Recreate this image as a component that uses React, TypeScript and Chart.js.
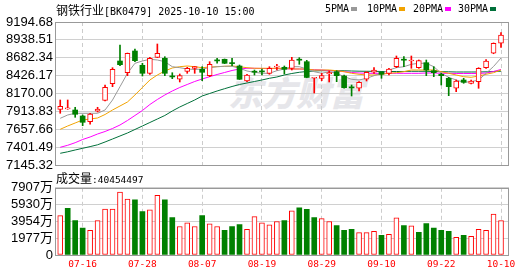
import React, { useEffect, useRef } from 'react';
import { Chart, registerables } from 'chart.js';
Chart.register(...registerables);

const openP = [7943.6, 7950.8, 7933.6, 7847.6, 7765.9, 7915.0, 8072.6, 8310.5, 8635.8, 8468.1,
  8779.1, 8574.2, 8459.5, 8688.8, 8674.5, 8413.7, 8373.6, 8485.3, 8531.2, 8516.9,
  8425.1, 8643.0, 8660.2, 8601.0, 8564.2, 8349.2, 8481.0, 8485.3, 8459.5, 8547.0,
  8545.5, 8531.2, 8653.0, 8625.8, 8388.0, 8387.9, 8449.5, 8482.5, 8420.8, 8256.0,
  8244.6, 8373.6, 8473.9, 8473.9, 8459.5, 8554.1, 8653.0, 8635.8, 8539.8, 8611.4,
  8496.8, 8445.2, 8387.9, 8244.6, 8363.5, 8316.2, 8339.2, 8539.8, 8746.2, 8889.5];
const closeP = [7986.6, 7958.0, 7872.0, 7757.3, 7876.3, 7947.9, 8258.9, 8516.9, 8582.8, 8746.2,
  8640.1, 8459.5, 8674.5, 8746.2, 8459.5, 8407.9, 8425.1, 8531.2, 8554.1, 8473.9,
  8588.5, 8637.2, 8602.9, 8598.0, 8373.6, 8435.2, 8475.3, 8479.6, 8531.2, 8552.7,
  8516.9, 8650.1, 8647.3, 8400.0, 8396.0, 8425.1, 8471.0, 8425.1, 8253.2, 8250.3,
  8330.6, 8473.9, 8506.8, 8445.2, 8521.2, 8674.5, 8647.3, 8650.1, 8640.1, 8506.8,
  8468.1, 8425.1, 8267.5, 8349.2, 8330.6, 8349.2, 8531.2, 8635.8, 8889.5, 9008.4];
const highP = [8076.9, 8076.9, 7972.3, 7861.9, 7886.3, 7972.3, 8291.9, 8539.8, 8865.1, 8750.0,
  8807.8, 8602.9, 8688.8, 8879.4, 8697.4, 8468.1, 8449.5, 8545.5, 8556.0, 8554.1,
  8625.8, 8674.5, 8664.5, 8674.5, 8578.5, 8445.2, 8506.8, 8521.2, 8554.1, 8588.5,
  8564.2, 8688.8, 8683.1, 8645.8, 8398.0, 8459.5, 8492.5, 8496.8, 8435.2, 8291.9,
  8339.2, 8482.5, 8539.8, 8482.5, 8531.2, 8707.5, 8697.4, 8707.5, 8650.1, 8650.1,
  8554.1, 8459.5, 8402.2, 8363.5, 8387.9, 8363.5, 8539.8, 8655.4, 8895.0, 9041.4];
const lowP = [7886.3, 7943.6, 7829.0, 7708.6, 7728.7, 7904.9, 8062.6, 8267.5, 8568.5, 8425.1,
  8625.8, 8420.8, 8445.2, 8685.0, 8425.1, 8382.1, 8334.9, 8459.5, 8459.5, 8353.5,
  8410.8, 8602.9, 8597.1, 8568.5, 8370.7, 8339.2, 8435.2, 8435.2, 8445.2, 8506.8,
  8449.5, 8506.8, 8588.5, 8396.0, 8177.2, 8353.5, 8334.9, 8339.2, 8244.6, 8134.2,
  8205.9, 8349.2, 8459.5, 8387.9, 8435.2, 8539.8, 8554.1, 8531.2, 8531.2, 8425.1,
  8410.8, 8291.9, 8138.5, 8195.9, 8316.2, 8306.2, 8244.6, 8531.2, 8740.0, 8832.1];

const ma5 = [7814.6, 7861.9, 7886.3, 7886.3, 7886.3, 7886.3, 7933.6, 8076.9, 8267.5, 8459.5,
  8602.9, 8635.8, 8660.2, 8650.1, 8625.8, 8554.1, 8539.8, 8521.2, 8514.0, 8521.2,
  8539.8, 8554.1, 8559.9, 8559.9, 8531.2, 8492.5, 8473.9, 8459.5, 8459.5, 8496.8,
  8521.2, 8554.1, 8554.1, 8521.2, 8482.5, 8459.5, 8482.5, 8459.5, 8410.8, 8373.6,
  8363.5, 8387.9, 8425.1, 8459.5, 8506.8, 8539.8, 8554.1, 8588.5, 8602.9, 8602.9,
  8554.1, 8459.5, 8402.2, 8363.5, 8330.6, 8339.2, 8363.5, 8459.5, 8557.0, 8678.8];
const ma10 = [7657.0, 7704.3, 7747.3, 7790.3, 7804.6, 7818.9, 7869.1, 7933.6, 7990.9, 8048.2,
  8148.6, 8256.0, 8363.5, 8435.2, 8492.5, 8535.5, 8554.1, 8564.2, 8554.1, 8539.8,
  8549.8, 8554.1, 8559.9, 8564.2, 8554.1, 8539.8, 8531.2, 8531.2, 8531.2, 8531.2,
  8531.2, 8521.2, 8521.2, 8521.2, 8506.8, 8506.8, 8506.8, 8496.8, 8482.5, 8459.5,
  8445.2, 8435.2, 8435.2, 8445.2, 8459.5, 8468.1, 8482.5, 8506.8, 8506.8, 8506.8,
  8506.8, 8482.5, 8459.5, 8435.2, 8410.8, 8402.2, 8420.8, 8445.2, 8468.1, 8506.8];
const ma20 = [7399.1, 7427.7, 7465.0, 7510.8, 7546.7, 7589.6, 7625.5, 7668.5, 7718.6, 7783.1,
  7854.8, 7926.4, 8012.4, 8084.1, 8148.6, 8205.9, 8256.0, 8299.0, 8342.0, 8377.9,
  8410.8, 8442.3, 8471.0, 8499.7, 8521.2, 8531.2, 8531.2, 8528.3, 8528.3, 8528.3,
  8525.5, 8521.2, 8521.2, 8516.9, 8511.1, 8506.8, 8499.7, 8492.5, 8482.5, 8471.0,
  8463.8, 8459.5, 8459.5, 8459.5, 8459.5, 8459.5, 8459.5, 8459.5, 8459.5, 8463.8,
  8463.8, 8459.5, 8459.5, 8456.7, 8456.7, 8456.7, 8456.7, 8463.8, 8485.3, 8514.0];
const ma30 = [7313.1, 7334.6, 7360.3, 7384.7, 7409.1, 7434.9, 7475.0, 7518.0, 7561.0, 7604.0,
  7654.1, 7704.3, 7754.5, 7804.6, 7854.8, 7919.3, 7976.6, 8026.7, 8076.9, 8134.2,
  8170.0, 8205.9, 8238.8, 8270.4, 8299.0, 8320.5, 8342.0, 8363.5, 8387.9, 8406.5,
  8435.2, 8456.7, 8473.9, 8485.3, 8492.5, 8496.8, 8496.8, 8496.8, 8495.4, 8492.5,
  8489.6, 8488.2, 8488.2, 8485.3, 8485.3, 8485.3, 8485.3, 8488.2, 8488.2, 8488.2,
  8485.3, 8482.5, 8481.0, 8478.2, 8478.2, 8478.2, 8478.2, 8481.0, 8485.3, 8489.6];

const volume = [46320000, 54770000, 40530000, 31610000, 28950000, 40530000, 54080000, 54080000, 74110000, 65660000,
  64850000, 50950000, 53270000, 70290000, 64850000, 44000000, 33580000, 37830000, 33580000, 46320000,
  36670000, 33580000, 28950000, 33580000, 35900000, 30110000, 45160000, 37830000, 35510000, 39370000,
  40530000, 52110000, 55580000, 53650000, 44000000, 42850000, 39370000, 34740000, 28950000, 30110000,
  26250000, 26250000, 27790000, 23160000, 24320000, 43620000, 34740000, 34350000, 26630000, 37060000,
  31650000, 28950000, 27790000, 20840000, 23160000, 22000000, 30110000, 28950000, 48250000, 40454497];

const dateIdx = [3, 11, 19, 27, 35, 43, 51, 59];
const dateLabels = ['07-16', '07-28', '08-07', '08-19', '08-29', '09-10', '09-22', '10-10'];
const priceTicks = [7145.32, 7401.49, 7657.66, 7913.83, 8170.0, 8426.17, 8682.34, 8938.51, 9194.68];
const volTicks = [0, 19767500, 39535000, 59302500, 79070000];
const volTickLabels = ['0', '1977万', '3954万', '5930万', '7907万'];

const UP = '#ff0000';
const DOWN = '#008000';
const MA_COLORS = ['#999999', '#f2a300', '#ff00ff', '#00703a'];
const X_MIN = -0.7;
const X_MAX = 60.07;
const AXIS_FONT = { family: '"Liberation Sans", "Noto Sans CJK SC", sans-serif', size: 13 };

const framePlugin = {
  id: 'frame',
  afterDraw(chart: any) {
    const { ctx, chartArea } = chart;
    ctx.save();
    ctx.strokeStyle = '#999999';
    ctx.lineWidth = 1;
    ctx.strokeRect(Math.round(chartArea.left) + 0.5, Math.round(chartArea.top) + 0.5,
      Math.round(chartArea.right - chartArea.left) - 1, Math.round(chartArea.bottom - chartArea.top));
    ctx.restore();
  },
};

const candleUp = (i: number) => closeP[i] >= openP[i];
const volUp = (i: number) => (i === 0 ? closeP[0] >= openP[0] : closeP[i] >= closeP[i - 1]);

function xScale(showLabels: boolean, height: number) {
  return {
    type: 'linear' as const,
    min: X_MIN,
    max: X_MAX,
    offset: false,
    bounds: 'data' as const,
    afterBuildTicks: (s: any) => { s.ticks = dateIdx.map((v) => ({ value: v })); },
    afterFit: (s: any) => { s.height = height; },
    grid: { color: '#cccccc', drawTicks: false, lineWidth: 1, offset: false },
    border: { display: false, dash: [4, 3] },
    ticks: {
      display: showLabels,
      autoSkip: false,
      maxRotation: 0,
      padding: 4,
      color: '#ff0000',
      font: { family: '"DejaVu Sans Mono", monospace', size: 9.5 },
      callback: (_v: any, idx: number) => dateLabels[idx],
    },
  };
}

export default function App() {
  const priceRef = useRef<HTMLCanvasElement>(null);
  const volRef = useRef<HTMLCanvasElement>(null);

  useEffect(() => {
    const idx = closeP.map((_, i) => i);
    const maSets = [ma5, ma10, ma20, ma30].map((arr, k) => ({
      type: 'line' as const,
      data: arr.map((v, i) => ({ x: i, y: v })),
      borderColor: MA_COLORS[k],
      borderWidth: 1,
      pointRadius: 0,
      tension: 0,
      order: 2 + k,
    }));
    const price = new Chart(priceRef.current!, {
      type: 'bar',
      data: {
        datasets: [
          {
            type: 'bar',
            data: idx.map((i) => ({ x: i, y: [openP[i], closeP[i]] })) as any,
            backgroundColor: idx.map((i) => (candleUp(i) ? '#ffffff' : DOWN)),
            borderColor: idx.map((i) => (candleUp(i) ? UP : DOWN)),
            borderWidth: idx.map((i) => (candleUp(i) ? 1 : 0)),
            borderSkipped: false,
            barThickness: 5,
            minBarLength: 1,
            grouped: false,
            order: 0,
          } as any,
          {
            type: 'bar',
            data: idx.map((i) => ({ x: i, y: [lowP[i], highP[i]] })) as any,
            backgroundColor: idx.map((i) => (candleUp(i) ? UP : DOWN)),
            borderWidth: 0,
            barThickness: 1,
            grouped: false,
            order: 1,
          } as any,
          ...maSets,
        ],
      },
      options: {
        animation: false,
        responsive: false,
        events: [],
        layout: { padding: { left: 0, right: 21, top: 22, bottom: 11 } },
        plugins: { legend: { display: false }, tooltip: { enabled: false } },
        scales: {
          x: xScale(false, 0) as any,
          y: {
            type: 'linear',
            min: priceTicks[0],
            max: priceTicks[priceTicks.length - 1],
            afterBuildTicks: (s: any) => { s.ticks = priceTicks.map((v) => ({ value: v })); },
            afterFit: (s: any) => { s.width = 55; },
            grid: { color: '#d0d0d0', drawTicks: false },
            border: { display: false },
            ticks: {
              autoSkip: false,
              padding: 2,
              color: '#000000',
              font: AXIS_FONT,
              callback: (v: any) => Number(v).toFixed(2),
            },
          },
        },
      },
      plugins: [framePlugin],
    });

    const vol = new Chart(volRef.current!, {
      type: 'bar',
      data: {
        datasets: [
          {
            data: idx.map((i) => ({ x: i, y: volume[i] })) as any,
            backgroundColor: idx.map((i) => (volUp(i) ? '#ffffff' : DOWN)),
            borderColor: idx.map((i) => (volUp(i) ? UP : DOWN)),
            borderWidth: idx.map((i) => (volUp(i) ? 1 : 0)),
            borderSkipped: false,
            barThickness: 5,
            grouped: false,
          } as any,
        ],
      },
      options: {
        animation: false,
        responsive: false,
        events: [],
        layout: { padding: { left: 0, right: 21, top: 9, bottom: 0 } },
        plugins: { legend: { display: false }, tooltip: { enabled: false } },
        scales: {
          x: xScale(true, 21) as any,
          y: {
            type: 'linear',
            min: 0,
            max: volTicks[volTicks.length - 1],
            afterBuildTicks: (s: any) => { s.ticks = volTicks.map((v) => ({ value: v })); },
            afterFit: (s: any) => { s.width = 55; },
            grid: { color: '#d0d0d0', drawTicks: false },
            border: { display: false },
            ticks: {
              autoSkip: false,
              padding: 2,
              color: '#000000',
              font: AXIS_FONT,
              callback: (_v: any, i: number) => volTickLabels[i],
            },
          },
        },
      },
      plugins: [framePlugin],
    });

    return () => {
      price.destroy();
      vol.destroy();
    };
  }, []);

  const mono = '"DejaVu Sans Mono", "Liberation Mono", monospace';
  const cjk = '"Noto Sans CJK SC", sans-serif';
  const legend = [
    { t: '5PMA', x: 325 },
    { t: '10PMA', x: 367 },
    { t: '20PMA', x: 413 },
    { t: '30PMA', x: 458 },
  ];

  return (
    <div style={{ position: 'absolute', left: 0, top: 0, width: 530, height: 276, background: '#ffffff', overflow: 'hidden' }}>
      <div style={{ position: 'absolute', left: 228, top: 72, fontFamily: cjk, fontWeight: 900, fontSize: 34, lineHeight: '40px', color: '#e6e6ea', fontStyle: 'italic', whiteSpace: 'nowrap' }}>东方财富</div>
      <canvas ref={priceRef} width={530} height={176} style={{ position: 'absolute', left: 0, top: 0 }} />
      <canvas ref={volRef} width={530} height={98} style={{ position: 'absolute', left: 0, top: 178 }} />
      <div style={{ position: 'absolute', left: 56, top: 2, height: 16, lineHeight: '16px', whiteSpace: 'nowrap', color: '#000' }}>
        <span style={{ fontFamily: cjk, fontSize: 12 }}>钢铁行业</span>
        <span style={{ fontFamily: mono, fontSize: 10 }}>[BK0479] 2025-10-10 15:00</span>
      </div>
      {legend.map((l, k) => (
        <div key={l.t} style={{ position: 'absolute', left: l.x, top: 2, height: 14, lineHeight: '14px', whiteSpace: 'nowrap', fontFamily: mono, fontSize: 10, color: '#000' }}>
          {l.t}
          <span style={{ display: 'inline-block', width: 6, height: 4, marginLeft: 2, verticalAlign: 'middle', background: MA_COLORS[k] }} />
        </div>
      ))}
      <div style={{ position: 'absolute', left: 56, top: 170, height: 16, lineHeight: '16px', whiteSpace: 'nowrap', color: '#000' }}>
        <span style={{ fontFamily: cjk, fontSize: 12 }}>成交量</span>
        <span style={{ fontFamily: mono, fontSize: 9.5 }}>:40454497</span>
      </div>
    </div>
  );
}
